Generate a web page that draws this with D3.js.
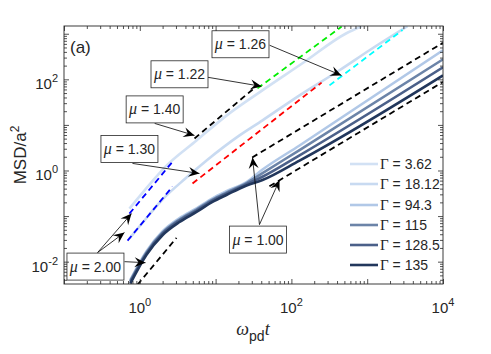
<!DOCTYPE html>
<html>
<head>
<meta charset="utf-8">
<script src="https://cdn.jsdelivr.net/npm/d3@7"></script>
<style>
body { margin: 0; background: #fff; }
text { font-family: "Liberation Sans", Arial, sans-serif; fill: #262626; }
</style>
</head>
<body>
<svg id="msd" width="491" height="354"></svg>
<script>
// MSD vs omega_pd t, log-log

// series: time and MSD
var gammaLabels = ["3.62", "18.12", "94.3", "115", "128.5", "135"];
var gammaColors = ["#d2e1f4", "#c8daf1", "#b1c8e7", "#6c84a8", "#4b6089", "#22375c"];

var t_g362 = [0.73, 1.34, 2.12, 5.6, 15.2, 37.9, 140, 532, 840];
var msd_g362 = [0.146, 0.49, 1.16, 4.56, 17.9, 51.8, 225, 1025, 1460];

var t_g1812 = [0.73, 1.15, 1.99, 4.13, 7.6, 20.7, 41.6, 128, 431, 1072, 3400];
var msd_g1812 = [0.032, 0.080, 0.231, 0.70, 1.66, 5.9, 12.6, 44.5, 158, 434, 1460];

var t_bundle = [0.75, 1.22, 1.99, 3.34, 5.6, 9.1, 13.9, 25.6, 41.6, 128, 10000];
var msd_g943 = [0.0040, 0.0168, 0.046, 0.090, 0.148, 0.245, 0.35, 0.56, 1.05, 3.54, 434];
var msd_g115 = [0.0038, 0.0158, 0.043, 0.084, 0.139, 0.23, 0.328, 0.53, 0.88, 2.8, 275];
var msd_g1285 = [0.0036, 0.015, 0.041, 0.080, 0.132, 0.219, 0.312, 0.50, 0.73, 2.15, 184];
var msd_g135 = [0.0033, 0.014, 0.038, 0.074, 0.123, 0.204, 0.29, 0.47, 0.62, 1.65, 122];

// power-law guides: [t start, t end, msd at t start, exponent]
var fitMu = [2.00, 2.00, 1.40, 1.22, 1.30, 1.26, 2.00, 1.00, 1.00];
var fitT0 = [0.73, 0.69, 5.27, 35.7, 4.96, 318, 0.93, 30.4, 51.3];
var fitT1 = [2.78, 2.70, 34.7, 460, 250, 2920, 3.05, 10000, 10000];
var fitY0 = [0.1135, 0.029, 5.05, 63.4, 0.518, 73.8, 0.0031, 1.93, 0.45];
var fitColors = ["#0000ff", "#0000ff", "#000000", "#00ee00", "#ff0000", "#00ffff", "#000000", "#000000", "#000000"];

// annotation boxes (centre, data units) and arrows (tail -> tip)
var boxText = ["1.26", "1.22", "1.40", "1.30", "2.00", "1.00"];
var boxT = [21.3, 3.34, 1.57, 0.73, 0.26, 36.3];
var boxM = [588, 129, 21.9, 2.97, 0.0078, 0.0305];
var arrowFromT = [51.6, 7.87, 1.57, 0.80, 0.277, 0.277, 0.628, 37.9, 37.9];
var arrowFromM = [559, 111, 10.8, 1.43, 0.0158, 0.0158, 0.0100, 0.065, 0.065];
var arrowToT = [458, 40.3, 5.27, 6.13, 0.778, 0.628, 1.19, 30.7, 69.7];
var arrowToM = [122, 70.2, 5.88, 0.86, 0.1135, 0.0434, 0.0095, 1.93, 0.615];

var svg = d3.select("#msd");
var pLeft = 64, pRight = 443, pTop = 26, pBottom = 284;

var x = d3.scaleLog().domain([0.1, 1e4]).range([pLeft, pRight]);
var y = d3.scaleLog().domain([Math.pow(10, -2.49), Math.pow(10, 3.17)]).range([pBottom, pTop]);

var defs = svg.append("defs");
defs.append("clipPath").attr("id", "plotclip")
    .append("rect").attr("x", pLeft).attr("y", pTop)
    .attr("width", pRight - pLeft).attr("height", pBottom - pTop);

defs.append("marker")
    .attr("id", "head")
    .attr("markerUnits", "userSpaceOnUse")
    .attr("viewBox", "-12 -6 14 12")
    .attr("markerWidth", 14).attr("markerHeight", 12)
    .attr("refX", 0).attr("refY", 0)
    .attr("orient", "auto")
    .append("path")
    .attr("d", "M0,0 L-11,-5 L-7,0 L-11,5 Z")
    .attr("fill", "#000");

var plot = svg.append("g").attr("clip-path", "url(#plotclip)");

var line = d3.line()
    .x(function(d) { return x(d[0]); })
    .y(function(d) { return y(d[1]); })
    .curve(d3.curveMonotoneX);

var series = [
    d3.zip(t_g362, msd_g362),
    d3.zip(t_g1812, msd_g1812),
    d3.zip(t_bundle, msd_g943),
    d3.zip(t_bundle, msd_g115),
    d3.zip(t_bundle, msd_g1285),
    d3.zip(t_bundle, msd_g135)
];

series.forEach(function(s, i) {
    plot.append("path")
        .datum(s)
        .attr("fill", "none")
        .attr("stroke", gammaColors[i])
        .attr("stroke-width", 2.6)
        .attr("stroke-linejoin", "round")
        .attr("d", line);
});

// dashed guides
fitMu.forEach(function(mu, i) {
    var pts = [fitT0[i], fitT1[i]].map(function(t) {
        return [t, fitY0[i] * Math.pow(t / fitT0[i], mu)];
    });
    plot.append("path")
        .datum(pts)
        .attr("fill", "none")
        .attr("stroke", fitColors[i])
        .attr("stroke-width", 1.8)
        .attr("stroke-dasharray", "6,4")
        .attr("d", d3.line().x(function(d) { return x(d[0]); }).y(function(d) { return y(d[1]); }));
});

// arrows
arrowFromT.forEach(function(t, i) {
    svg.append("line")
        .attr("x1", x(t)).attr("y1", y(arrowFromM[i]))
        .attr("x2", x(arrowToT[i])).attr("y2", y(arrowToM[i]))
        .attr("stroke", "#000")
        .attr("stroke-width", 0.8)
        .attr("marker-end", "url(#head)");
});

// text boxes
var bw = 57, bh = 27;
boxText.forEach(function(txt, i) {
    var cx = x(boxT[i]), cy = y(boxM[i]);
    svg.append("rect")
        .attr("x", cx - bw / 2).attr("y", cy - bh / 2)
        .attr("width", bw).attr("height", bh)
        .attr("fill", "#fff").attr("stroke", "#262626").attr("stroke-width", 0.8);
    var tx = svg.append("text")
        .attr("x", cx).attr("y", cy + 5)
        .attr("text-anchor", "middle")
        .attr("font-size", 14);
    tx.append("tspan").attr("font-style", "italic").attr("font-family", "Liberation Serif").attr("font-size", 16).text("\u03bc");
    tx.append("tspan").text(" = " + txt);
});

// ticks
function minors(lo, hi) {
    var out = [];
    for (var e = lo; e <= hi; e++) {
        for (var k = 2; k <= 9; k++) out.push(k * Math.pow(10, e));
    }
    return out;
}
var xMajor = [0.1, 1, 10, 100, 1000, 10000];
var xMinor = minors(-1, 3);
var yMajor = [0.01, 0.1, 1, 10, 100, 1000];
var yMinor = minors(-3, 3).filter(function(v) { return v > y.domain()[0] && v < y.domain()[1]; });

function tickAxis(axis, vals, size, tr) {
    var g = svg.append("g").attr("transform", tr)
        .call(axis.tickValues(vals).tickSizeInner(size).tickSizeOuter(0).tickFormat(""));
    g.select(".domain").remove();
    g.selectAll("line").attr("stroke", "#262626").attr("stroke-width", 0.8);
}
tickAxis(d3.axisBottom(x), xMajor, -5, "translate(0," + pBottom + ")");
tickAxis(d3.axisBottom(x), xMinor, -3, "translate(0," + pBottom + ")");
tickAxis(d3.axisTop(x), xMajor, -5, "translate(0," + pTop + ")");
tickAxis(d3.axisTop(x), xMinor, -3, "translate(0," + pTop + ")");
tickAxis(d3.axisLeft(y), yMajor, -5, "translate(" + pLeft + ",0)");
tickAxis(d3.axisLeft(y), yMinor, -3, "translate(" + pLeft + ",0)");
tickAxis(d3.axisRight(y), yMajor, -5, "translate(" + pRight + ",0)");
tickAxis(d3.axisRight(y), yMinor, -3, "translate(" + pRight + ",0)");

svg.append("rect")
    .attr("x", pLeft).attr("y", pTop)
    .attr("width", pRight - pLeft).attr("height", pBottom - pTop)
    .attr("fill", "none").attr("stroke", "#262626").attr("stroke-width", 0.9);

// tick labels 10^n
var xLabelExp = [0, 2, 4];
xLabelExp.forEach(function(e) {
    var t = svg.append("text")
        .attr("x", x(Math.pow(10, e))).attr("y", 313)
        .attr("text-anchor", "middle").attr("font-size", 15);
    t.append("tspan").text("10");
    t.append("tspan").attr("dy", -7).attr("font-size", 11).text(e);
});
var yLabelExp = [-2, 0, 2];
yLabelExp.forEach(function(e) {
    var t = svg.append("text")
        .attr("x", 58).attr("y", y(Math.pow(10, e)) + 10)
        .attr("text-anchor", "end").attr("font-size", 15);
    t.append("tspan").text("10");
    t.append("tspan").attr("dy", -7).attr("font-size", 11).text(e);
});

// axis titles
var yl = svg.append("text")
    .attr("transform", "translate(26,155) rotate(-90)")
    .attr("text-anchor", "middle").attr("font-size", 17);
yl.append("tspan").text("MSD/a");
yl.append("tspan").attr("dy", -7).attr("font-size", 12).text("2");

var xl = svg.append("text")
    .attr("x", 253).attr("y", 335)
    .attr("text-anchor", "middle").attr("font-size", 18);
xl.append("tspan").attr("font-family", "Liberation Serif").attr("font-style", "italic").text("\u03c9");
xl.append("tspan").attr("dy", 6).attr("font-size", 14).text("pd");
xl.append("tspan").attr("dy", -6).attr("font-family", "Liberation Serif").attr("font-style", "italic").text("t");

svg.append("text").attr("x", 70).attr("y", 53).attr("font-size", 17).text("(a)");

// legend
var legY = [164, 184, 205, 225, 245, 265];
gammaLabels.forEach(function(lab, i) {
    svg.append("line")
        .attr("x1", 350).attr("x2", 378)
        .attr("y1", legY[i]).attr("y2", legY[i])
        .attr("stroke", gammaColors[i]).attr("stroke-width", 2.6);
    var t = svg.append("text")
        .attr("x", 380).attr("y", legY[i] + 5)
        .attr("font-size", 14);
    t.append("tspan").attr("font-family", "Liberation Serif").attr("font-size", 15).text("\u0393");
    t.append("tspan").text(" = " + lab);
});
</script>
</body>
</html>
